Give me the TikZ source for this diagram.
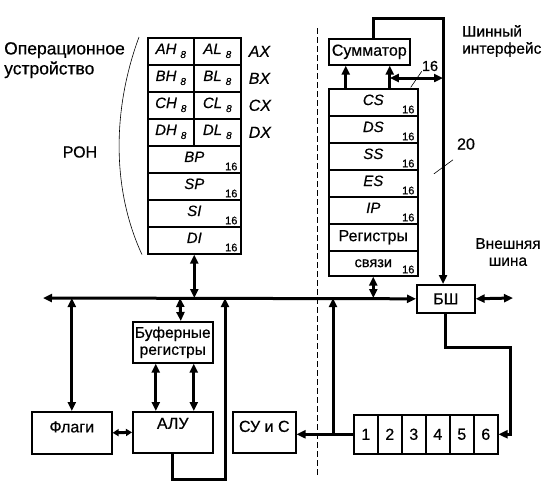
\documentclass[tikz,border=0pt]{standalone}
\usepackage{fontspec}
\setmainfont{Liberation Sans}[UprightFeatures={FakeBold=0.5}, ItalicFeatures={FakeBold=0.5}]
\usetikzlibrary{arrows.meta}

\newcommand\rsub[1]{\hspace{4pt}\raisebox{-4pt}{\fontsize{10}{10}\selectfont #1}}

\tikzset{
  txt/.style={inner sep=0pt, font=\fontsize{17.5}{20}\selectfont},
  pair/.style={inner sep=0pt, anchor=west, font=\fontsize{16}{16}\selectfont\itshape},
  box/.style={draw, line width=1.6pt, anchor=north west, inner sep=0pt,
    font=\fontsize{16}{17}\selectfont},
  reg/.style={box, minimum height=27pt, text depth=5pt,
    font=\fontsize{15}{15}\selectfont\itshape},
  w16/.style={label={[anchor=south east, inner sep=0pt, xshift=-4pt, yshift=3pt,
    font=\fontsize{11}{11}\selectfont\upshape]south east:16}},
  bus/.style={line width=3pt},
  arr/.style={bus, -{Triangle[length=9pt,width=8pt]}},
  dbl/.style={bus, {Triangle[length=9pt,width=8pt]}-{Triangle[length=9pt,width=8pt]}},
  lead/.style={line width=0.6pt},
}

\begin{document}
\begin{tikzpicture}[x=1pt, y=-1pt]
\useasboundingbox (0,0) rectangle (552,499);

% Operating unit labels
\node[txt, anchor=north west, align=left] (opu) at (4,42) {Операционное\\устройство};
\node[txt, font=\fontsize{16}{16}\selectfont] (ron) at (80,152) {РОН};

% General purpose registers
\node[reg, minimum width=46pt] (ah) at (147,37) {AH\rsub{8}};
\node[reg, minimum width=47pt] (al) at (193,37) {AL\rsub{8}};
\node[reg, minimum width=46pt] (bh) at (147,64) {BH\rsub{8}};
\node[reg, minimum width=47pt] (bl) at (193,64) {BL\rsub{8}};
\node[reg, minimum width=46pt] (ch) at (147,91) {CH\rsub{8}};
\node[reg, minimum width=47pt] (cl) at (193,91) {CL\rsub{8}};
\node[reg, minimum width=46pt] (dh) at (147,118) {DH\rsub{8}};
\node[reg, minimum width=47pt] (dl) at (193,118) {DL\rsub{8}};
\node[reg, w16, minimum width=93pt] (bp) at (147,145) {BP};
\node[reg, w16, minimum width=93pt] (sp) at (147,172) {SP};
\node[reg, w16, minimum width=93pt] (si) at (147,199) {SI};
\node[reg, w16, minimum width=93pt] (di) at (147,226) {DI};

% Register pair names
\node[pair] (ax) at ([xshift=7pt]al.east) {AX};
\node[pair] (bx) at ([xshift=7pt]bl.east) {BX};
\node[pair] (cx) at ([xshift=7pt]cl.east) {CX};
\node[pair] (dx) at ([xshift=7pt]dl.east) {DX};

% Arc beside the register file
\draw[lead] ([xshift=-8pt]ah.north west) .. controls (112,110) and (112,190) .. ([xshift=-5pt]di.south west);

% Segment registers and adder
\node[box, minimum width=81pt, minimum height=26pt] (sum) at (328,38) {Сумматор};
\node[reg, w16, minimum width=89pt] (cs) at (328,88) {CS};
\node[reg, w16, minimum width=89pt] (ds) at (328,115) {DS};
\node[reg, w16, minimum width=89pt] (ss) at (328,142) {SS};
\node[reg, w16, minimum width=89pt] (es) at (328,169) {ES};
\node[reg, w16, minimum width=89pt] (ip) at (328,196) {IP};
\node[box, minimum width=89pt, minimum height=27pt] (rsa) at (328,223) {Регистры};
\node[box, w16, minimum width=89pt, minimum height=25pt,
  font=\fontsize{14.5}{14.5}\selectfont] (rsb) at (328,250) {связи\hspace{12pt}};

% Bus unit
\node[box, minimum width=58pt, minimum height=28pt] (bs) at (416,284) {БШ};

% Instruction queue
\node[box, minimum width=24pt, minimum height=39pt] (q1) at (353,414) {1};
\node[box, minimum width=24pt, minimum height=39pt] (q2) at (377,414) {2};
\node[box, minimum width=24pt, minimum height=39pt] (q3) at (401,414) {3};
\node[box, minimum width=24pt, minimum height=39pt] (q4) at (425,414) {4};
\node[box, minimum width=24pt, minimum height=39pt] (q5) at (449,414) {5};
\node[box, minimum width=24pt, minimum height=39pt] (q6) at (473,414) {6};

% Execution unit blocks
\node[box, minimum width=80pt, minimum height=41pt, align=center,
  font=\fontsize{15.5}{17}\selectfont] (buf) at (132,321) {Буферные\\регистры};
\node[box, minimum width=80pt, minimum height=41pt, text depth=18pt] (alu) at (132,411) {АЛУ};
\node[box, minimum width=80pt, minimum height=42pt, text depth=12pt] (flags) at (31,411) {Флаги};
\node[box, minimum width=63pt, minimum height=41pt, text depth=12pt] (cu) at (232,411) {СУ и С};

% Bus interface labels
\node[txt, anchor=north west, align=left, font=\fontsize{15.5}{17}\selectfont] (biu) at (462,25) {Шинный\\интерфейс};
\node[txt, align=center, font=\fontsize{15.5}{17}\selectfont] (ext) at (508,252) {Внешняя\\шина};
\node[txt, font=\fontsize{14.5}{14.5}\selectfont] (n16) at (430,66) {16};
\node[txt, font=\fontsize{16}{16}\selectfont] (n20) at (466,144) {20};
\draw[lead] (n16.south west) -- ++(-11,16);
\draw[lead] ([shift={(-4,10)}]n20.south west) -- ++(-19,14);

% Boundary between the two units
\draw[line width=1pt, dash pattern=on 6pt off 3pt] (317,28) -- (317,477);

% Internal bus
\coordinate (busL) at (43,298);
\coordinate (extR) at (513,298);
\draw[dbl] (busL) -- (bs.west);
\draw[dbl] (bs.east) -- (extR);
\draw[dbl] (di.south) -- (di.south |- busL);
\draw[dbl] (flags.north) -- (flags.north |- busL);
\draw[dbl] (rsb.south) -- (rsb.south |- busL);

% Buffer registers and ALU
\coordinate (tbuf) at (180,298);
\draw[dbl] ([xshift=8pt]buf.north) -- (tbuf);
\draw[dbl] ([xshift=-17pt]buf.south) -- ([xshift=-17pt]alu.north);
\draw[dbl] ([xshift=21pt]buf.south) -- ([xshift=21pt]alu.north);
\draw[bus, {Triangle[length=6pt,width=7pt]}-{Triangle[length=6pt,width=7pt]}] (flags.east) -- (alu.west);

% ALU result back to the bus
\coordinate (talu) at (225,298);
\draw[arr] (alu.south) -- ++(0,26) -| (talu);

% Queue output
\coordinate (tq) at (333,298);
\draw[arr] (q1.west) -- (q1.west -| cu.east);
\draw[arr] (q1.west -| tq) -- (tq);

% Bus unit to queue
\coordinate (qturn) at (510,347);
\draw[arr] (bs.south) |- (qturn) |- (q6.east);

% Adder loop
\coordinate (fb) at (443,18);
\coordinate (sa) at ([xshift=-27.5pt]cs.north);
\coordinate (sb) at ([xshift=16.5pt]cs.north);
\coordinate (br) at (443,78);
\draw[arr] ([xshift=4pt]sum.north) |- (fb) -- (fb |- bs.north);
\draw[arr] (sa) -- (sa |- sum.south);
\draw[arr] (sb) -- (sb |- sum.south);
\draw[dbl] (br) -- (br -| sb);

\end{tikzpicture}
\end{document}
